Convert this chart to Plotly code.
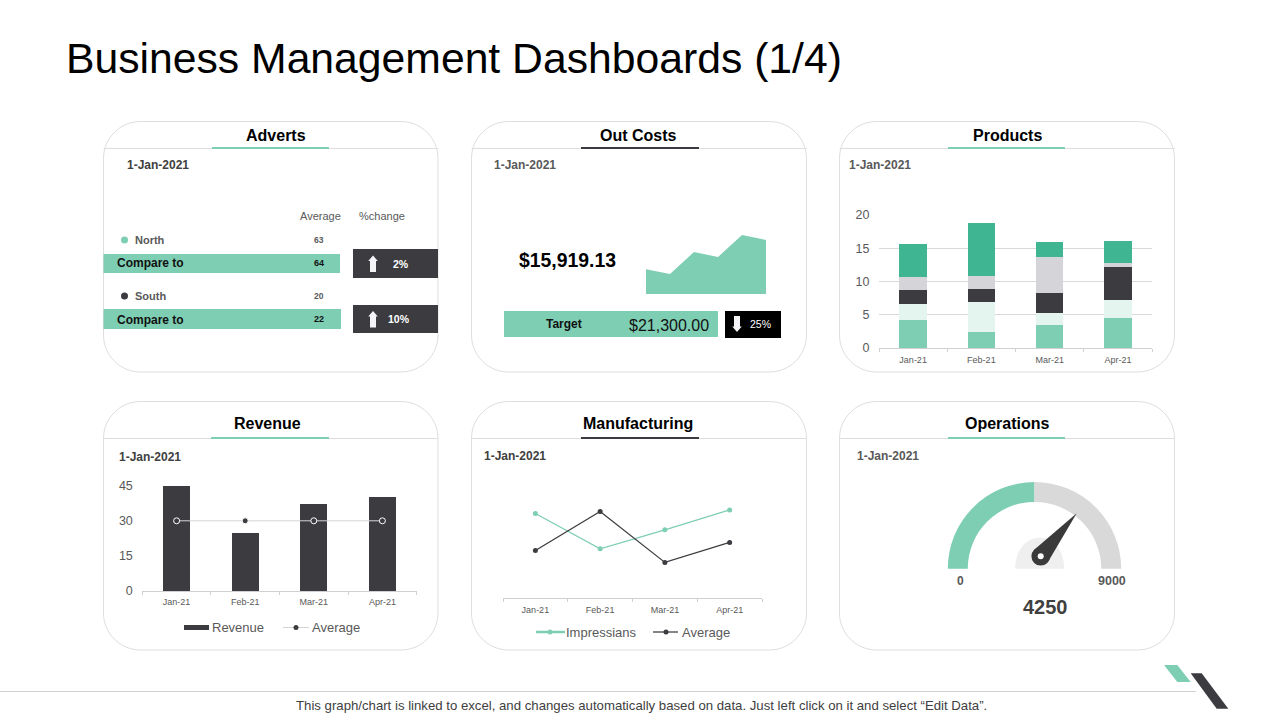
import plotly.graph_objects as go

W, H = 1280, 720
FONT = "Liberation Sans"
GREEN, DARK, LINE = "#7ECEB4", "#3C3B40", "#DEDEDE"
TXT, TICK = "#404040", "#595959"

# ---- data ----
months = ["Jan-21", "Feb-21", "Mar-21", "Apr-21"]
prod_a = [4.25, 2.45, 3.5, 4.55]
prod_b = [2.4, 4.5, 1.8, 2.7]
prod_c = [2.1, 1.95, 3.0, 4.95]
prod_d = [1.95, 1.95, 5.4, 0.6]
prod_e = [4.95, 7.95, 2.25, 3.3]
prod_colors = [GREEN, "#E3F5EE", DARK, "#D5D4D9", "#3FB691"]
revenue = [45, 25, 37, 40]
revenue_avg = [30, 30, 30, 30]
impressians = [25.4, 14.8, 20.5, 26.5]
manu_avg = [14.3, 26, 10.7, 16.7]
cost_trend = [24.7, 20, 42, 37, 59, 54]
cost_x = [1, 2, 3, 4, 5, 6]
gauge_labels = ["Filled", "Remaining", "Hidden"]
gauge_values = [4500, 4500, 9000]
gauge_colors = [GREEN, "#D9D9D9", "rgba(0,0,0,0)"]


def px(x):
    return x / W


def py(y):
    return 1 - y / H


def xdom(a, b):
    return [px(a), px(b)]


def ydom(top, bottom):
    return [py(bottom), py(top)]


def pt(x, y):
    return f"{px(x):.5f},{py(y):.5f}"


shapes, annots = [], []


def rect(x0, y0, x1, y1, color):
    shapes.append(dict(type="rect", xref="paper", yref="paper", x0=px(x0), x1=px(x1),
                       y0=py(y1), y1=py(y0), fillcolor=color, line_width=0, layer="below"))


def hline(x0, x1, y, color, w=1):
    shapes.append(dict(type="line", xref="paper", yref="paper", x0=px(x0), x1=px(x1),
                       y0=py(y), y1=py(y), line=dict(color=color, width=w), layer="below"))


def poly(points, color, layer="above"):
    d = "M" + " L".join(pt(*p) for p in points) + " Z"
    shapes.append(dict(type="path", xref="paper", yref="paper", path=d, fillcolor=color,
                       line_width=0, layer=layer))


def circle(cx, cy, r, color, layer="above"):
    shapes.append(dict(type="circle", xref="paper", yref="paper", x0=px(cx - r), x1=px(cx + r),
                       y0=py(cy + r), y1=py(cy - r), fillcolor=color, line_width=0, layer=layer))


def card(x0, y0, x1, y1, r=37):
    k = r * 0.45
    d = (f"M{pt(x0 + r, y0)} L{pt(x1 - r, y0)} C{pt(x1 - k, y0)} {pt(x1, y0 + k)} {pt(x1, y0 + r)} "
         f"L{pt(x1, y1 - r)} C{pt(x1, y1 - k)} {pt(x1 - k, y1)} {pt(x1 - r, y1)} "
         f"L{pt(x0 + r, y1)} C{pt(x0 + k, y1)} {pt(x0, y1 - k)} {pt(x0, y1 - r)} "
         f"L{pt(x0, y0 + r)} C{pt(x0, y0 + k)} {pt(x0 + k, y0)} {pt(x0 + r, y0)} Z")
    shapes.append(dict(type="path", xref="paper", yref="paper", path=d, fillcolor="white",
                       line=dict(color=LINE, width=1), layer="below"))


def text(x, y, s, size=12, color=TXT, bold=False, anchor="center"):
    annots.append(dict(xref="paper", yref="paper", x=px(x), y=py(y), text=f"<b>{s}</b>" if bold else s,
                       showarrow=False, xanchor=anchor, yanchor="middle",
                       font=dict(family=FONT, size=size, color=color), borderpad=0, borderwidth=0))


def arrow(cx, top, bottom, up=True, color="#F4F4F6"):
    hw, sw, head = 4.8, 3, 5.5
    if up:
        pts = [(cx, top), (cx + hw, top + head), (cx + sw, top + head), (cx + sw, bottom),
               (cx - sw, bottom), (cx - sw, top + head), (cx - hw, top + head)]
    else:
        pts = [(cx, bottom), (cx + hw, bottom - head), (cx + sw, bottom - head), (cx + sw, top),
               (cx - sw, top), (cx - sw, bottom - head), (cx - hw, bottom - head)]
    poly(pts, color)


# ---- cards ----
cards = [
    (103.5, 121.5, 438, 372, 148.5, 276, 135, "Adverts", 212, 329, GREEN, 127, 165, TXT),
    (471.5, 121.5, 806.5, 372, 148.5, 638, 135, "Out Costs", 581, 699, DARK, 494, 165, TICK),
    (839.5, 121.5, 1174.5, 372, 148.5, 1007, 135, "Products", 948, 1065, GREEN, 849, 165, TICK),
    (103.5, 401.5, 438, 650, 438.5, 267, 423, "Revenue", 211, 329, GREEN, 119, 457, TXT),
    (471.5, 401.5, 806.5, 650, 438.5, 638, 423, "Manufacturing", 581, 699, DARK, 484, 456, TXT),
    (839.5, 401.5, 1174.5, 650, 438.5, 1007, 423, "Operations", 948, 1065, GREEN, 857, 456, TICK),
]
for x0, y0, x1, y1, hy, tx, ty, title, a0, a1, ac, dx, dy, dc in cards:
    card(x0, y0, x1, y1)
    hline(x0, x1, hy, LINE)
    hline(a0, a1, hy - 0.5, ac, 2)
    text(tx, ty, title, 16, "#000000", True)
    text(dx, dy, "1-Jan-2021", 12, dc, True, "left")

# ---- page title and footer ----
text(66, 58, "Business Management Dashboards (1/4)", 42.7, "#000000", False, "left")
hline(0, 1196, 691.5, "#D0D0D0")
text(641, 705, "This graph/chart is linked to excel, and changes automatically based on data. "
               "Just left click on it and select “Edit Data”.", 13.2, TXT)
poly([(1164, 665), (1177.3, 665), (1190.7, 682), (1177.3, 682)], GREEN)
poly([(1190.7, 673.3), (1201.7, 673.3), (1228.3, 708.7), (1216.7, 708.7)], DARK)

# ---- adverts panel ----
text(320, 216, "Average", 11, TICK)
text(382, 216, "%change", 11, TICK)
circle(124.5, 240, 3.5, GREEN)
text(135, 240, "North", 11, TICK, True, "left")
text(319, 240, "63", 8.5, TICK, True)
rect(103.5, 254, 340, 273, GREEN)
text(117, 263.5, "Compare to", 12, "#111111", True, "left")
text(319, 263.5, "64", 9, "#111111", True)
rect(353, 249, 438, 278, DARK)
arrow(373, 255.5, 272)
text(401, 264, "2%", 10.5, "#FFFFFF", True)
circle(124.5, 296, 3.5, DARK)
text(135, 296, "South", 11, TICK, True, "left")
text(319, 296, "20", 8.5, TICK, True)
rect(103.5, 309, 341, 329, GREEN)
text(117, 319.5, "Compare to", 12, "#111111", True, "left")
text(319, 319, "22", 9, "#111111", True)
rect(353, 305, 438, 333, DARK)
arrow(373, 311, 327.5)
text(399, 319, "10%", 10.5, "#FFFFFF", True)

# ---- out costs panel ----
text(567.5, 260, "$15,919.13", 19.4, "#000000", True)
rect(504, 311, 718, 337, GREEN)
text(564, 324, "Target", 12, "#111111", True)
text(669, 325.5, "$21,300.00", 16, "#111111")
rect(725, 311, 781, 338, "#000000")
arrow(737, 316, 332, up=False)
text(760, 324, "25%", 10.5, "#FFFFFF")

# ---- operations panel ----
text(960, 581, "0", 12, TICK, True)
text(1112, 581, "9000", 12.5, TICK, True)
text(1045, 607, "4250", 20, TXT, True)
hub = (1039.7, 568.7)
k = 13
shapes.append(dict(type="path", xref="paper", yref="paper", fillcolor="#EFEFEF", line_width=0, layer="above",
                   path=f"M{pt(hub[0] - 24.5, hub[1])} C{pt(hub[0] - 24.5, hub[1] - 20)} {pt(hub[0] - k, hub[1] - 31)} "
                        f"{pt(hub[0], hub[1] - 31)} C{pt(hub[0] + k, hub[1] - 31)} {pt(hub[0] + 24.5, hub[1] - 20)} "
                        f"{pt(hub[0] + 24.5, hub[1])} Z"))
poly([(1033.6, 550.3), (1076.7, 513.3), (1047.8, 562.3)], "#3A3A3A")
circle(1040.7, 556.3, 9.3, "#3A3A3A")
circle(1040.7, 556.3, 3, "#FFFFFF")

# ---- hand-placed legends ----
rect(184, 625, 209, 630, DARK)
text(212, 627, "Revenue", 13, TICK, False, "left")
hline(283, 309, 627.5, "#D4D4D4")
circle(296, 627.5, 2.5, DARK)
text(312, 627, "Average", 13, TICK, False, "left")
hline(536, 565, 632, GREEN, 2.5)
circle(550, 632, 2.5, GREEN)
text(566, 632, "Impressians", 13, TICK, False, "left")
hline(653, 678, 632, DARK, 1.25)
circle(666, 632, 2.5, DARK)
text(682, 632, "Average", 13, TICK, False, "left")

# ---- figure ----
fig = go.Figure()


def xaxis(dom, **kw):
    d = dict(domain=xdom(*dom), type="category", categoryorder="array", categoryarray=months,
             range=[-0.5, 3.5], showgrid=False, showline=True, linecolor="#D0D0D0", linewidth=1,
             ticks="outside", tickson="boundaries", ticklen=3, tickcolor="#D0D0D0", ticklabelstandoff=3,
             tickfont=dict(family=FONT, size=9, color=TICK), zeroline=False, fixedrange=True)
    d.update(kw)
    return d


def yaxis(dom, rng, **kw):
    d = dict(domain=ydom(*dom), range=rng, showgrid=False, zeroline=False, showline=False,
             tickfont=dict(family=FONT, size=12.5, color=TICK), ticks="outside", ticklen=6,
             tickcolor="rgba(0,0,0,0)", fixedrange=True)
    d.update(kw)
    return d


# products
for name, vals, col in zip(["A", "B", "C", "D", "E"], [prod_a, prod_b, prod_c, prod_d, prod_e], prod_colors):
    fig.add_trace(go.Bar(x=months, y=vals, name=name, marker=dict(color=col, line_width=0), width=0.4,
                         xaxis="x", yaxis="y"))
# revenue
fig.add_trace(go.Bar(x=months, y=revenue, marker=dict(color=DARK, line_width=0), width=0.39, name="Revenue",
                     xaxis="x2", yaxis="y2"))
fig.add_trace(go.Scatter(x=months, y=revenue_avg, mode="lines+markers", name="Average",
                         line=dict(color="#D4D4D4", width=1),
                         marker=dict(color=DARK, size=6, line=dict(color="white", width=1)),
                         xaxis="x2", yaxis="y2"))
# manufacturing
fig.add_trace(go.Scatter(x=months, y=impressians, mode="lines+markers", name="Impressians",
                         line=dict(color=GREEN, width=1.25), marker=dict(color=GREEN, size=5),
                         xaxis="x3", yaxis="y3"))
fig.add_trace(go.Scatter(x=months, y=manu_avg, mode="lines+markers", name="Average",
                         line=dict(color=DARK, width=1.25), marker=dict(color=DARK, size=5),
                         xaxis="x3", yaxis="y3"))
# out costs area
fig.add_trace(go.Scatter(x=cost_x, y=cost_trend, mode="lines", fill="tozeroy", fillcolor=GREEN,
                         line=dict(color=GREEN, width=0), name="Out Costs",
                         xaxis="x4", yaxis="y4"))
# gauge
R, GX, GY = 86.7, 1034.5, 568.7
fig.add_trace(go.Pie(labels=gauge_labels, values=gauge_values, sort=False, direction="clockwise", rotation=270,
                     hole=0.77, marker=dict(colors=gauge_colors, line_width=0), textinfo="none",
                     hoverinfo="skip",
                     domain=dict(x=[px(GX - R), px(GX + R)], y=[py(GY + R), py(GY - R)])))

fig.update_layout(
    width=W, height=H, autosize=False, margin=dict(l=0, r=0, t=0, b=0, pad=0, autoexpand=False), showlegend=False,
    paper_bgcolor="white", plot_bgcolor="rgba(0,0,0,0)", barmode="stack",
    font=dict(family=FONT), shapes=shapes, annotations=annots,
    xaxis=xaxis((879, 1152), ticklabelstandoff=3),
    yaxis=yaxis((215, 348), [0, 20], tickvals=[0, 5, 10, 15, 20], showgrid=True, gridcolor="#D9D9D9", gridwidth=1),
    xaxis2=xaxis((142.3, 416.7), anchor="y2", ticklabelstandoff=2),
    yaxis2=yaxis((485.7, 591), [0, 45], tickvals=[0, 15, 30, 45], anchor="x2"),
    xaxis3=xaxis((503, 762), anchor="y3", ticklabelstandoff=3),
    yaxis3=yaxis((465, 598), [0, 40], visible=False, anchor="x3"),
    xaxis4=dict(domain=xdom(646, 766), range=[1, 6], visible=False, fixedrange=True, anchor="y4"),
    yaxis4=dict(domain=ydom(234, 294), range=[0, 60], visible=False, fixedrange=True, anchor="x4"),
)

fig.write_html("out.html", config=dict(displayModeBar=False),
               post_script="document.body.style.margin='0';")
